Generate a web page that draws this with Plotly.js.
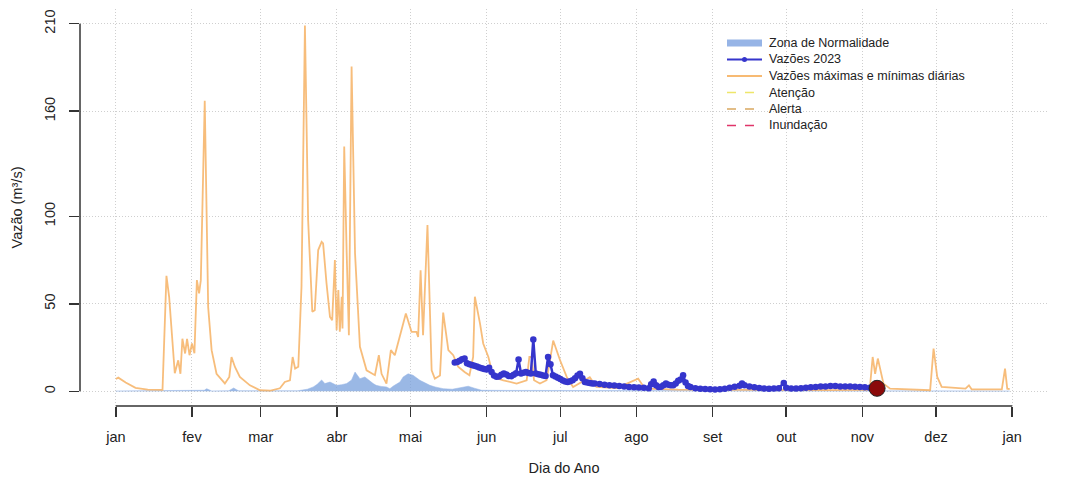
<!DOCTYPE html>
<html><head><meta charset="utf-8">
<script src="https://cdn.plot.ly/plotly-3.0.1.min.js"></script>
<style>html,body{margin:0;padding:0;background:#fff}#chart{width:1066px;height:480px}</style>
</head><body><div id="chart"></div>
<script>
// Month ticks (day of year) and labels
const monthDays = [1,32,60,91,121,152,182,213,244,274,305,335,366];
const monthLabels = ['jan','fev','mar','abr','mai','jun','jul','ago','set','out','nov','dez','jan'];
const yTicks = [0,50,100,160,210];

// Zona de Normalidade (upper bound, lower ~0)
const zonaDays = [1,36,37,38,39,40,47,48,49,50,51,75,76,79,81.4,83,84.8,86.1,88.2,90.9,93,95,97,98.4,100.4,102.4,105.8,107,109,111.2,112.6,114,116.7,118,120,121.4,122,124.8,126.2,128.9,131,134.3,138,141,144.5,147,150,160,200,250,300,365];
const zonaUpper = [0.2,0.2,0.6,1.5,0.6,0.2,0.3,1.2,1.9,1.0,0.3,0.3,0.6,1.2,2.5,4.0,6.5,4.4,5.3,3.4,3.8,4.4,6.5,11,7.2,8.2,4.4,3.4,2.8,2.5,1.5,3.0,5.3,8.2,10,9.7,9.2,6.3,5.3,3.4,2.5,1.5,1.2,1.8,2.9,1.8,0.6,0.5,0.4,0.4,0.3,0.2];

// Vazões máximas e mínimas diárias
const maxDays = [1,2,5,9,14,19,20,21.6,22.7,25,26.4,27.3,28.1,29.2,30,31,32,33,34,34.9,35.6,37.2,38.6,40,42,45.4,47.2,48.1,49.5,51.5,55.6,59.7,64,67.8,69.8,71.9,73,74,75.3,76.6,78,79.3,81,82,83.4,84.8,85.4,86.8,88.2,89.1,90.2,90.9,91.6,92.2,93,93.3,94,95,95.9,97,98.4,100.4,103.1,106.5,108.1,109.2,111.2,113,114.6,119.1,121.4,123.4,124.1,125.1,126.1,127.9,129.6,130.9,133,134.3,136.4,138.4,140.4,143,145,146.5,147.2,149.3,150.6,152.7,154.7,158.8,164.2,168.3,169.4,170.3,171.3,173.7,176.4,177.8,179.1,181.9,184.6,187.2,194,196.7,205,213.7,216.5,230,250,270,290,307,308.1,309.2,310.2,311.3,313.6,316.3,332.6,334,335.5,337.3,347,348.4,349.5,361.8,363.1,364,365];
const maxVals = [7,7.8,5,2,1,0.6,0.8,66,54,10.3,17.7,10,30,21.6,30,20.6,27.3,21.7,63.5,56,63.5,166,48,23.5,10,4.5,8.2,19.6,13.9,8.2,3.4,0.6,0.4,1.7,5.3,6.3,19.6,13,14,59.7,209,97.8,45.4,46.3,80.7,85.4,84.5,61.6,42.5,40.6,75,34.9,57.8,34,54,35.9,139.8,78.8,32,185.5,78.8,25.4,12,9.2,20.6,10,4.4,23.5,20.6,44.4,34,34,31,69.2,32,95,12,7.2,9,45,23.5,20.6,14,11,9.2,19.6,54,38.7,27.3,19.6,8.2,6.3,4.4,6.3,19.6,19.6,6.3,4.4,6.3,17.7,29,17.7,8.2,2.5,8,2.5,1.8,7.2,1.5,1,0.8,0.7,0.7,0.8,2.5,19.6,10,18.7,4.4,1.5,0.6,24.4,8.2,2.5,1.5,3.4,1.1,1.1,13,1.5,1.2];

// Vazões 2023
const obsDays = [139,140,141,142,143,144,145,146,147,148,149,150,151,152,153,154,155,156,157,158,159,160,161,162,163,164,165,166,167,168,169,170,171,172,173,174,175,176,177,178,179,180,181,182,183,184,185,186,187,188,189,190,191,192,193,194,195,196,198,200,202,204,206,208,210,212,214,216,218,219,220,221,222,223,224,225,226,227,228,229,230,231,232,233,234,235,237,239,241,243,245,247,249,251,253,255,256,257,259,261,263,265,267,269,271,273,274,276,278,280,282,284,286,288,290,292,294,296,298,300,302,304,306,308,310,311];
const obsVals = [16.4,16.8,17.5,18.3,18.7,16,15.5,15,14.6,14.2,13.6,13.2,12.8,12.4,13.5,11,9,8.3,8.5,9.5,10.1,9.6,8.8,8.6,9.5,10.3,18.1,10.2,10.6,11,10.5,10.1,29.6,10.2,9.7,9.4,9,8.7,19.6,15.4,9.2,8.4,7.8,7,6.2,5.6,5.3,5.8,6.3,7.5,9,10,7.5,5.3,5,4.8,4.5,4.4,4.2,3.8,3.5,3.3,3,2.8,2.5,2.3,2.1,2,1.8,4,5.6,3.5,2.5,2.6,3.5,4.4,3.8,3.5,3.4,4.5,6,6.8,9.2,5,3,2.4,1.8,1.5,1.3,1.1,1,1.2,1.5,2,2.6,3.2,4.4,3.5,2.7,2.3,1.9,1.6,1.5,1.6,1.8,4.8,2,1.6,1.6,1.8,2,2.3,2.5,2.7,2.8,3,3,2.8,2.7,2.7,2.6,2.5,2.3,2,1.8,1.7];

// Legend entries
const legendNames = ['Zona de Normalidade','Vazões 2023','Vazões máximas e mínimas diárias','Atenção','Alerta','Inundação'];

const W = 1066, H = 480, M = {l:80, r:18, t:9, b:74};
const pw = W - M.l - M.r, ph = H - M.t - M.b;
const px = v => (v - M.l) / pw;
const py = v => 1 - (v - M.t) / ph;

const xPad = 0.04*(monthDays[monthDays.length-1]-monthDays[0]);
const yPad = 0.04*(yTicks[yTicks.length-1]-yTicks[0]);

const cBlue = '#3535cc', cOrange = 'rgba(246,178,100,0.85)', cZona = 'rgba(120,160,220,0.75)';

const traces = [
  {x: zonaDays, y: zonaUpper, type:'scatter', mode:'lines', fill:'tozeroy',
   fillcolor:cZona, line:{color:'rgba(150,180,230,1)', width:0.5}, name:legendNames[0]},
  {x: maxDays, y: maxVals, type:'scatter', mode:'lines',
   line:{color:cOrange, width:1.8}, name:legendNames[2]},
  {x: obsDays, y: obsVals, type:'scatter', mode:'lines+markers',
   line:{color:cBlue, width:2.5}, marker:{color:cBlue, size:6.5}, name:legendNames[1]},
  {x: [obsDays[obsDays.length-1]], y: [obsVals[obsVals.length-1]], type:'scatter', mode:'markers',
   marker:{color:'#8b0a0a', size:16, line:{color:'#222', width:1}}, hoverinfo:'skip'}
];

// Manual legend (R-style compact spacing)
const legX0 = 727, legX1 = 762, legTextX = 767, legY0 = 43, legDy = 16.5;
const legStyles = [
  {color:'rgba(150,180,230,1)', width:7, dash:'solid'},
  {color:cBlue, width:1.8, dash:'solid', dot:true},
  {color:'rgba(246,178,100,0.9)', width:1.8, dash:'solid'},
  {color:'#eee66a', width:1.3, dash:'dash'},
  {color:'#d9a860', width:1.3, dash:'dash'},
  {color:'#e0356a', width:1.3, dash:'dash'}
];
const shapes = [
  {type:'line', xref:'x', yref:'paper', x0:monthDays[0], x1:monthDays[monthDays.length-1], y0:0, y1:0, line:{color:'#333', width:1.5}},
  {type:'line', xref:'paper', yref:'y', x0:0, x1:0, y0:yTicks[0], y1:yTicks[yTicks.length-1], line:{color:'#333', width:1.5}}
];
const annotations = [];
legendNames.forEach((name, i) => {
  const yy = legY0 + i*legDy;
  const s = legStyles[i];
  shapes.push({type:'line', xref:'paper', yref:'paper', x0:px(legX0), x1:px(legX1), y0:py(yy), y1:py(yy),
               line:{color:s.color, width:s.width, dash:s.dash}});
  if (s.dot) shapes.push({type:'circle', xref:'paper', yref:'paper', x0:px(744.5-2.5), x1:px(744.5+2.5), y0:py(yy-2.5), y1:py(yy+2.5),
               fillcolor:cBlue, line:{color:cBlue, width:0}});
  annotations.push({xref:'paper', yref:'paper', x:px(legTextX), y:py(yy), xanchor:'left', yanchor:'middle',
                    text:name, showarrow:false, font:{size:12.5, color:'#222'}});
});

const layout = {
  width:W, height:H, margin:M,
  paper_bgcolor:'#fff', plot_bgcolor:'#fff',
  font:{family:'Liberation Sans, Arial, sans-serif', color:'#222', size:14},
  showlegend:false,
  xaxis:{range:[monthDays[0]-xPad, monthDays[monthDays.length-1]+xPad],
         tickmode:'array', tickvals:monthDays, ticktext:monthLabels,
         showgrid:true, gridcolor:'#cfcfcf', griddash:'1px,2px', gridwidth:1,
         zeroline:false, showline:false, ticks:'outside', ticklen:10, tickwidth:1.5, tickcolor:'#333',
         ticklabelstandoff:8, tickfont:{size:14.5, color:'#222'},
         title:{text:'Dia do Ano', font:{size:14.5, color:'#222'}, standoff:18}},
  yaxis:{range:[yTicks[0]-yPad, yTicks[yTicks.length-1]+yPad],
         tickmode:'array', tickvals:yTicks, ticktext:yTicks.map(String), tickangle:-90,
         showgrid:true, gridcolor:'#cfcfcf', griddash:'1px,2px', gridwidth:1,
         zeroline:false, showline:false, ticks:'outside', ticklen:10, tickwidth:1.5, tickcolor:'#333',
         ticklabelstandoff:8, tickfont:{size:14.5, color:'#222'},
         title:{text:'Vazão (m³/s)', font:{size:14.5, color:'#222'}, standoff:16}},
  shapes: shapes,
  annotations: annotations
};

Plotly.newPlot('chart', traces, layout, {staticPlot:true, displayModeBar:false});
</script>
</body></html>
